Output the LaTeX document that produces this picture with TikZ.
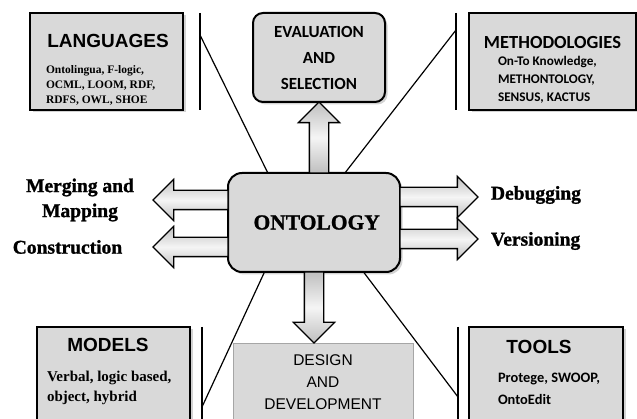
\documentclass[tikz,border=0pt]{standalone}
\usepackage{fontspec}
\setmainfont{Liberation Serif}
\newfontfamily\arialf{Liberation Sans}
\newfontfamily\calibf{Carlito}
\newfontfamily\heavyf[FakeBold=1.2]{Liberation Serif Bold}
\usetikzlibrary{calc,shapes.arrows,shadows}

% block arrow from #2 to #3, named #1
\newcommand\blockarrow[3]{%
  \path let \p1=(#2), \p2=(#3), \n1={veclen(\x2-\x1,\y2-\y1)},
            \n2={atan2(\y2-\y1,\x2-\x1)} in
    node[blk, minimum height=\n1, rotate=\n2, anchor=tail] (#1) at (\p1) {};}

\begin{document}
\begin{tikzpicture}[x=1pt, y=-1pt,
    every node/.style={inner sep=0pt, outer sep=0pt},
    box/.style ={draw=black, fill=black!15, line width=2pt,
                 drop shadow={shadow xshift=2.5pt, shadow yshift=-2.5pt, opacity=.35}},
    rbox/.style={box, rounded corners=10pt, align=center},
    hdr/.style ={font=\arialf\bfseries\fontsize{19}{22}\selectfont},
    lbl/.style ={font=\heavyf\fontsize{19.5}{25}\selectfont, align=center},
    bar/.style ={line width=1.6pt},
    link/.style={line width=1.2pt},
    blk/.style ={single arrow, draw=black, line width=1.3pt,
                 top color=gray!50, bottom color=gray!50, middle color=gray!8,
                 inner xsep=0pt, inner ysep=9pt, minimum width=0pt,
                 single arrow head extend=11pt, single arrow tip angle=90}]

\useasboundingbox (0,0) rectangle (637,419);
\clip (0,0) rectangle (637,419);

% ── four corner boxes ─────────────────────────────────────────────
\node[box, minimum width=153, minimum height=97] (lang) at (106.5,61.5) {};
\node[hdr] (langh) at ([xshift=1.5, yshift=-28]lang.north) {LANGUAGES};
\node[anchor=west, align=left, font=\bfseries\fontsize{11.5}{15}\selectfont] (langs)
  at ([xshift=16, yshift=-23.5]lang.west)
  {Ontolingua, F-logic,\\OCML, LOOM, RDF,\\RDFS, OWL, SHOE};

\node[box, minimum width=167, minimum height=97] (meth) at (552.5,61.5) {};
\node[font=\calibf\bfseries\fontsize{18.5}{20}\selectfont] (methh)
  at ([yshift=-30]meth.north) {METHODOLOGIES};
\node[anchor=west, align=left, font=\calibf\bfseries\fontsize{13.2}{18}\selectfont] (meths)
  at ([xshift=29, yshift=-18.5]meth.west)
  {On-To Knowledge,\\METHONTOLOGY,\\SENSUS, KACTUS};

\node[box, minimum width=153, minimum height=103] (models) at (113.5,378.5) {};
\node[hdr] (modelsh) at ([xshift=-5.5, yshift=-18]models.north) {MODELS};
\node[anchor=west, align=left, font=\bfseries\fontsize{15}{20}\selectfont] (modelss)
  at ([xshift=10, yshift=-9.5]models.west)
  {Verbal, logic based,\\object, hybrid};

\node[box, minimum width=154, minimum height=103] (tools) at (546,378.5) {};
\node[hdr] (toolsh) at ([xshift=-7, yshift=-20]tools.north) {TOOLS};
\node[anchor=west, align=left, font=\calibf\bfseries\fontsize{14.4}{22}\selectfont] (toolss)
  at ([xshift=29, yshift=-10.5]tools.west)
  {Protege, SWOOP,\\OntoEdit};

% ── centre and the boxes above / below it ─────────────────────────
\node[rbox, minimum width=132, minimum height=89,
      font=\calibf\bfseries\fontsize{17}{26}\selectfont] (eval) at (319,57.5)
  {EVALUATION\\AND\\SELECTION};
\node[rbox, minimum width=172, minimum height=99, rounded corners=14pt,
      font=\heavyf\fontsize{21.5}{24}\selectfont] (onto) at (314,222.5) {~ONTOLOGY};
\node[draw=gray!70, fill=black!15, line width=.8pt, minimum width=180, minimum height=78,
      align=center, font=\arialf\fontsize{15.5}{22}\selectfont] (design) at (323,382)
  {DESIGN\\AND\\DEVELOPMENT};

% ── side labels ───────────────────────────────────────────────────
\node[lbl] (merge)  at (80,200)   {Merging and\\Mapping};
\node[lbl] (constr) at (67.5,247) {Construction};
\node[lbl, anchor=west] (debug) at (491,195) {Debugging};
\node[lbl, anchor=west] (vers)  at (491,241) {Versioning};

\coordinate (tmerge)  at (153,200);
\coordinate (tconstr) at (153,247);
\coordinate (tdebug)  at (478,197);
\coordinate (tvers)   at (478,239);

% ── bars and links to the centre ──────────────────────────────────
\coordinate (blang) at (200,35);
\coordinate (bmeth) at (456,30);
\coordinate (bmod)  at (202,407);
\coordinate (btool) at (458,397);

\draw[bar] (blang |- lang.north) -- (blang |- lang.south);
\draw[bar] (bmeth |- meth.north) -- (bmeth |- meth.south);
\draw[bar] (bmod |- models.north) -- (bmod |- models.south);
\draw[bar] (btool |- tools.north) -- (btool |- tools.south);

\draw[link] (blang) -- (onto.133);
\draw[link] (bmeth) -- (onto.58);
\draw[link] (bmod)  -- (onto.225);
\draw[link] (btool) -- (onto.-45);

% ── block arrows ──────────────────────────────────────────────────
\blockarrow{aeval}{eval.south |- onto.north}{eval.south}
\blockarrow{adesign}{onto.south}{onto.south |- design.north}
\blockarrow{amerge}{onto.west |- tmerge}{tmerge}
\blockarrow{aconstr}{onto.west |- tconstr}{tconstr}
\blockarrow{adebug}{onto.east |- tdebug}{tdebug}
\blockarrow{avers}{onto.east |- tvers}{tvers}
\end{tikzpicture}
\end{document}
